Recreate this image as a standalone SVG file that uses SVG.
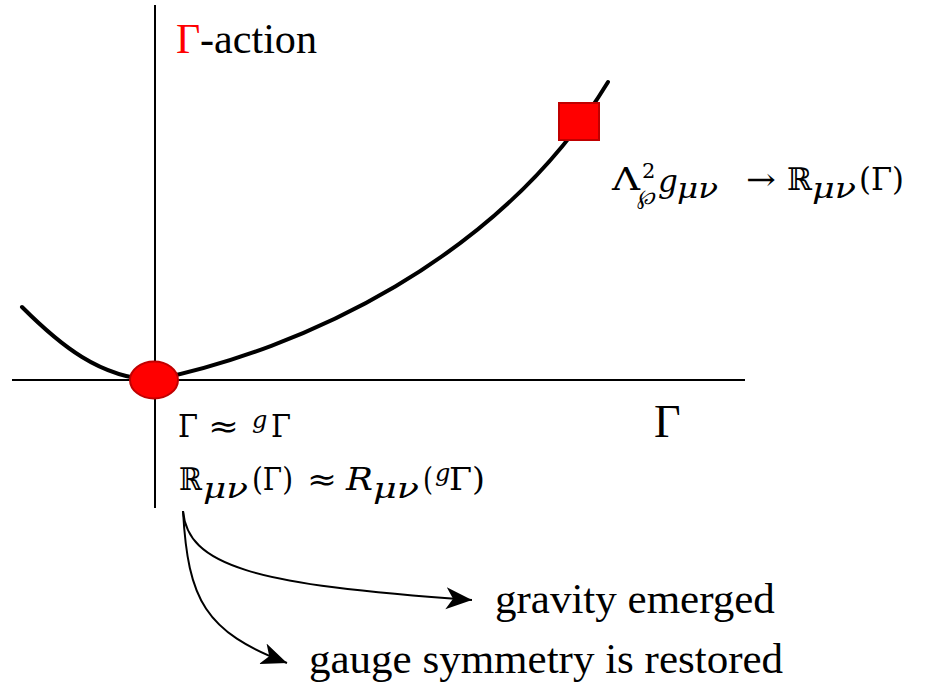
<svg xmlns="http://www.w3.org/2000/svg" width="925" height="689" viewBox="0 0 925 689">
<defs>
<style>
.ax{stroke:#000;stroke-width:2;fill:none}
.cv{stroke:#000;stroke-width:4;fill:none;stroke-linecap:round}
.ar{stroke:#000;stroke-width:2;fill:none}
.t{font-family:"Liberation Serif","Times New Roman",serif;font-size:43px;fill:#000}
.m{font-family:"DejaVu Serif","Liberation Serif",serif;font-size:31px;fill:#000}
.i{font-style:italic}
.s{font-size:24px}
.sb{font-size:28px}
.ss{font-size:21px}
</style>
<marker id="ah" markerUnits="userSpaceOnUse" markerWidth="28" markerHeight="24" refX="26" refY="12" orient="auto">
<path d="M0,1 L26,12 L0,23 L7,12 z" fill="#000"/>
</marker>
</defs>
<g id="axes">
<line class="ax" x1="155" y1="5" x2="155" y2="508"/>
<line class="ax" x1="12" y1="380" x2="745" y2="380"/>
</g>
<g id="curve">
<path class="cv" d="M22,307 C60,345 100,378 154,380 C300,350 500,260 608,82"/>
</g>
<g id="minimum">
<ellipse cx="154" cy="380" rx="24" ry="18.5" fill="#ff0000" stroke="#c00000" stroke-width="2"/>
</g>
<g id="uv-point">
<rect x="559" y="103" width="40" height="37" fill="#ff0000" stroke="#c00000" stroke-width="2"/>
</g>
<g id="y-label">
<text class="t" x="176" y="53" style="font-size:42px;fill:#ff0000">Γ</text>
<text class="t" x="200" y="53" style="font-size:42px" textLength="117" lengthAdjust="spacingAndGlyphs">-action</text>
</g>
<g id="x-label">
<text class="t" x="654" y="437" style="font-size:46px">Γ</text>
</g>
<g id="uv-label">
<text class="m" x="612" y="190" textLength="28" lengthAdjust="spacingAndGlyphs">Λ</text>
<text class="m ss" x="642" y="178">2</text>
<text class="m ss i" x="637" y="204">℘</text>
<text class="m i" x="658" y="192">g</text>
<text class="m sb i" x="677" y="198" textLength="41" lengthAdjust="spacingAndGlyphs">μν</text>
<text class="m" x="746" y="190" textLength="30" lengthAdjust="spacingAndGlyphs">→</text>
<text class="m" x="787" y="190" textLength="25" lengthAdjust="spacingAndGlyphs">ℝ</text>
<text class="m sb i" x="812" y="198" textLength="44" lengthAdjust="spacingAndGlyphs">μν</text>
<text class="m" x="859" y="190" textLength="45" lengthAdjust="spacingAndGlyphs">(Γ)</text>
</g>
<g id="ir-label">
<text class="m" x="178" y="437" textLength="20" lengthAdjust="spacingAndGlyphs">Γ</text>
<text class="m" x="208" y="437" textLength="31" lengthAdjust="spacingAndGlyphs">≈</text>
<text class="m s i" x="252" y="428">g</text>
<text class="m" x="271" y="437" textLength="20" lengthAdjust="spacingAndGlyphs">Γ</text>
<text class="m" x="179" y="490" textLength="23" lengthAdjust="spacingAndGlyphs">ℝ</text>
<text class="m sb i" x="203" y="498" textLength="45" lengthAdjust="spacingAndGlyphs">μν</text>
<text class="m" x="252" y="490" textLength="41" lengthAdjust="spacingAndGlyphs">(Γ)</text>
<text class="m" x="307" y="490" textLength="30" lengthAdjust="spacingAndGlyphs">≈</text>
<text class="m i" x="346" y="490" textLength="27" lengthAdjust="spacingAndGlyphs">R</text>
<text class="m sb i" x="373" y="498" textLength="46" lengthAdjust="spacingAndGlyphs">μν</text>
<text class="m" x="423" y="490" textLength="10" lengthAdjust="spacingAndGlyphs">(</text>
<text class="m s i" x="435" y="481">g</text>
<text class="m" x="449" y="490" textLength="36" lengthAdjust="spacingAndGlyphs">Γ)</text>
</g>
<g id="connectors">
<path class="ar" d="M183,511 C188,565 250,585 472,600" marker-end="url(#ah)"/>
<path class="ar" d="M183,511 C188,600 205,632 287,663" marker-end="url(#ah)"/>
</g>
<g id="gravity-label">
<text class="t" x="495" y="613">gravity emerged</text>
</g>
<g id="gauge-label">
<text class="t" x="309" y="673">gauge symmetry is restored</text>
</g>
</svg>
